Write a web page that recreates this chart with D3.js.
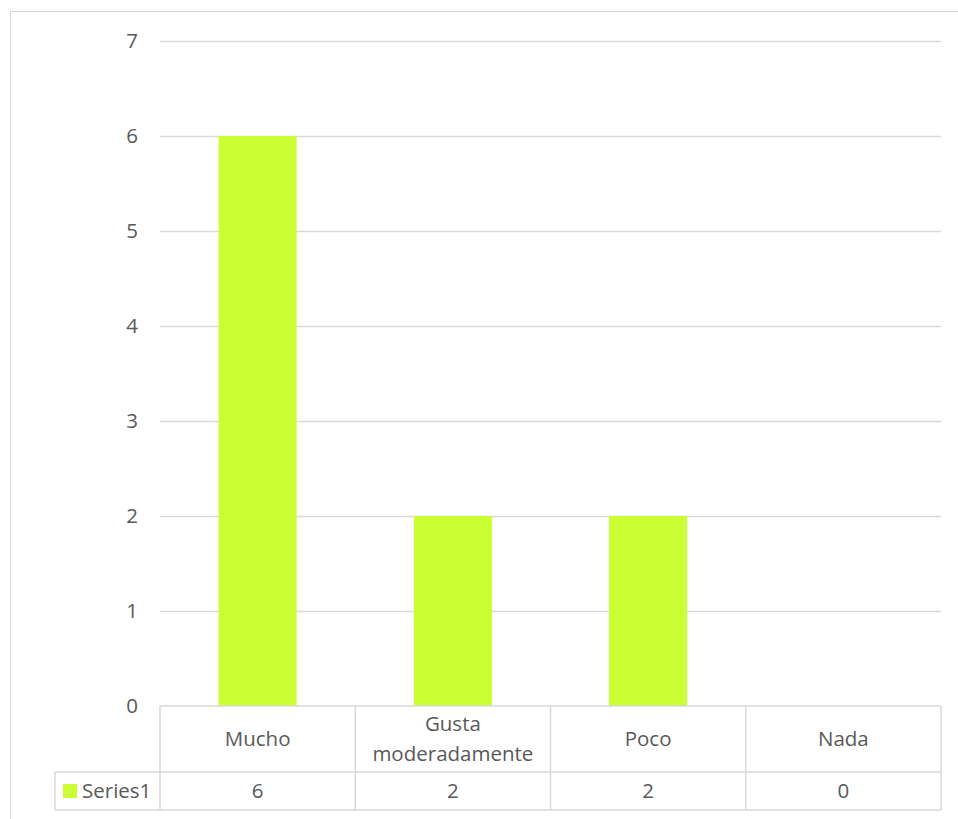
<!DOCTYPE html>
<html>
<head>
<meta charset="utf-8">
<script src="https://cdn.jsdelivr.net/npm/d3@7.9.0/dist/d3.min.js"></script>
<style>
  body { margin: 0; background: #fff; }
  svg { display: block; font-family: 'Open Sans', sans-serif; }
</style>
</head>
<body>
<div id="chart"></div>
<script>
// data
const categories = ['Mucho', 'Gusta moderadamente', 'Poco', 'Nada'];
const series1 = [6, 2, 2, 0];
const seriesName = 'Series1';
const yTicks = [0, 1, 2, 3, 4, 5, 6, 7];

const width = 958;
const height = 819;
const plot = { left: 160, right: 941, top: 41, bottom: 706 };
const rowBottom = { header: 772, values: 810 };
const legendLeft = 55;
const fontSize = '20.5px';

const textColor = '#595959';
const gridColor = '#d9d9d9';
const barColor = '#ccff33';

const svg = d3.select('#chart')
    .append('svg')
    .attr('width', width)
    .attr('height', height);

// outer chart frame
svg.append('rect')
    .attr('x', 10.5)
    .attr('y', 11.5)
    .attr('width', width + 20)
    .attr('height', height + 20)
    .attr('fill', 'none')
    .attr('stroke', gridColor)
    .attr('stroke-width', 1);

const xScale = d3.scaleBand()
    .domain(categories)
    .range([plot.left, plot.right]);

const yScale = d3.scaleLinear()
    .domain([0, 7])
    .range([plot.bottom, plot.top]);

// gridlines
svg.append('g')
    .attr('class', 'gridlines')
    .selectAll('line')
    .data(yTicks.filter(d => d > 0))
    .enter()
    .append('line')
    .attr('x1', plot.left)
    .attr('x2', plot.right)
    .attr('y1', d => Math.round(yScale(d)) + 0.5)
    .attr('y2', d => Math.round(yScale(d)) + 0.5)
    .attr('stroke', gridColor)
    .attr('stroke-width', 1.5);

// y axis labels
svg.append('g')
    .attr('class', 'y-axis')
    .selectAll('text')
    .data(yTicks)
    .enter()
    .append('text')
    .attr('x', 138)
    .attr('y', d => yScale(d))
    .attr('dy', '0.35em')
    .attr('text-anchor', 'end')
    .attr('font-size', fontSize)
    .attr('fill', textColor)
    .text(d => d);

// bars
const barW = xScale.bandwidth() * 0.4;
svg.append('g')
    .attr('class', 'bars')
    .selectAll('rect')
    .data(categories)
    .enter()
    .append('rect')
    .attr('x', d => xScale(d) + (xScale.bandwidth() - barW) / 2)
    .attr('y', (d, i) => yScale(series1[i]))
    .attr('width', barW)
    .attr('height', (d, i) => yScale(0) - yScale(series1[i]))
    .attr('fill', barColor);

// data table
const table = svg.append('g')
    .attr('class', 'data-table')
    .attr('stroke', gridColor)
    .attr('stroke-width', 1.5)
    .attr('fill', 'none');

// horizontal table lines
table.append('line')
    .attr('x1', plot.left).attr('x2', plot.right)
    .attr('y1', plot.bottom).attr('y2', plot.bottom);
table.append('line')
    .attr('x1', legendLeft).attr('x2', plot.right)
    .attr('y1', rowBottom.header).attr('y2', rowBottom.header);
table.append('line')
    .attr('x1', legendLeft).attr('x2', plot.right)
    .attr('y1', rowBottom.values).attr('y2', rowBottom.values);

// vertical table lines
table.append('line')
    .attr('x1', legendLeft).attr('x2', legendLeft)
    .attr('y1', rowBottom.header).attr('y2', rowBottom.values);
table.selectAll('.vline')
    .data([...categories.map(c => xScale(c)), plot.right])
    .enter()
    .append('line')
    .attr('class', 'vline')
    .attr('x1', d => d).attr('x2', d => d)
    .attr('y1', plot.bottom).attr('y2', rowBottom.values);

// category labels (wrapped)
const headerMid = (plot.bottom + rowBottom.header) / 2;
const catLabels = svg.append('g')
    .attr('class', 'x-labels')
    .selectAll('text')
    .data(categories)
    .enter()
    .append('text')
    .attr('x', d => xScale(d) + xScale.bandwidth() / 2)
    .attr('text-anchor', 'middle')
    .attr('font-size', fontSize)
    .attr('fill', textColor);

catLabels.each(function(d) {
    const words = d.split(' ');
    const lineH = 30;
    const y0 = headerMid - (words.length - 1) * lineH / 2;
    d3.select(this).selectAll('tspan')
        .data(words)
        .enter()
        .append('tspan')
        .attr('x', xScale(d) + xScale.bandwidth() / 2)
        .attr('y', (w, i) => y0 + i * lineH)
        .attr('dy', '0.35em')
        .text(w => w);
});

// values row
const valuesMid = (rowBottom.header + rowBottom.values) / 2;
svg.append('g')
    .attr('class', 'values')
    .selectAll('text')
    .data(categories)
    .enter()
    .append('text')
    .attr('x', d => xScale(d) + xScale.bandwidth() / 2)
    .attr('y', valuesMid)
    .attr('dy', '0.35em')
    .attr('text-anchor', 'middle')
    .attr('font-size', fontSize)
    .attr('fill', textColor)
    .text((d, i) => series1[i]);

// legend key
svg.append('rect')
    .attr('x', 63)
    .attr('y', valuesMid - 7)
    .attr('width', 14)
    .attr('height', 14)
    .attr('fill', barColor);

svg.append('text')
    .attr('x', 82)
    .attr('y', valuesMid)
    .attr('dy', '0.35em')
    .attr('font-size', fontSize)
    .attr('fill', textColor)
    .text(seriesName);
</script>
</body>
</html>
